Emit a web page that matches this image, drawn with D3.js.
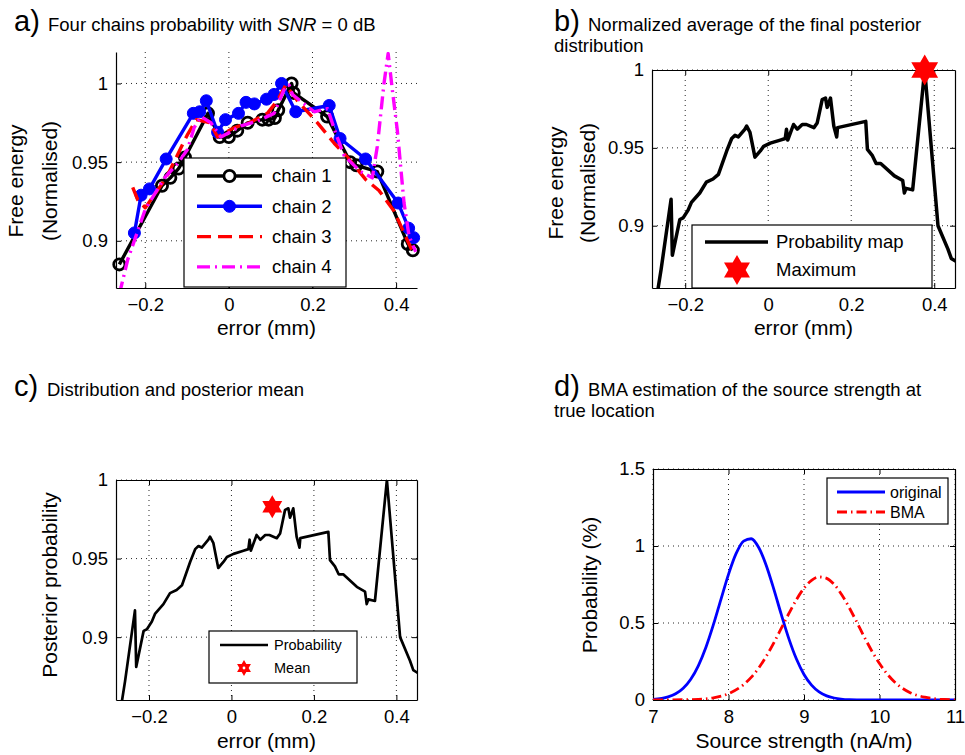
<!DOCTYPE html>
<html>
<head>
<meta charset="utf-8">
<script src="https://cdn.jsdelivr.net/npm/d3@7"></script>
<style>
  body { margin: 0; background: #fff; }
  svg { display: block; font-family: "Liberation Sans", Arial, Helvetica, sans-serif; }
</style>
</head>
<body>
<div id="chart"></div>
<script>
// values

// a) four MCMC chains, [error (mm), normalised free energy]
const chain1 = [[-0.262, 0.885], [-0.16, 0.935], [-0.14, 0.940], [-0.12, 0.946], [-0.105, 0.953],
  [-0.05, 0.981], [-0.022, 0.966], [0.0, 0.966], [0.02, 0.970], [0.045, 0.975], [0.08, 0.977],
  [0.095, 0.977], [0.11, 0.978], [0.118, 0.983], [0.15, 1.0], [0.155, 0.994], [0.235, 0.979],
  [0.29, 0.950], [0.305, 0.948], [0.355, 0.944], [0.428, 0.898], [0.44, 0.894]];
const chain2 = [[-0.226, 0.905], [-0.21, 0.929], [-0.19, 0.933], [-0.15, 0.952], [-0.085, 0.981],
  [-0.07, 0.982], [-0.054, 0.989], [-0.027, 0.969], [-0.008, 0.977], [0.023, 0.981], [0.041, 0.988],
  [0.061, 0.987], [0.09, 0.990], [0.108, 0.993], [0.126, 1.0], [0.16, 0.982], [0.24, 0.986],
  [0.266, 0.965], [0.327, 0.952], [0.405, 0.924], [0.43, 0.908], [0.442, 0.902]];
const chain3 = [[-0.23, 0.934], [-0.218, 0.926], [-0.2, 0.921], [-0.15, 0.940], [-0.1, 0.967],
  [-0.078, 0.977], [-0.045, 0.975], [-0.027, 0.966], [0.013, 0.972], [0.049, 0.975], [0.092, 0.981],
  [0.116, 0.989], [0.136, 0.999], [0.156, 0.992], [0.164, 0.989], [0.212, 0.975], [0.252, 0.962],
  [0.284, 0.953], [0.327, 0.939], [0.359, 0.932], [0.395, 0.919], [0.419, 0.905], [0.443, 0.891]];
const chain4 = [[-0.262, 0.866], [-0.242, 0.888], [-0.2, 0.920], [-0.154, 0.940], [-0.123, 0.949],
  [-0.099, 0.958], [-0.083, 0.972], [-0.067, 0.979], [-0.043, 0.975], [-0.019, 0.966], [0.029, 0.973],
  [0.067, 0.976], [0.108, 0.981], [0.132, 0.996], [0.144, 0.999], [0.152, 0.993], [0.204, 0.982],
  [0.236, 0.984], [0.256, 0.968], [0.276, 0.954], [0.315, 0.944], [0.343, 0.940], [0.355, 0.960],
  [0.371, 1.0], [0.381, 1.019], [0.391, 0.996], [0.403, 0.970], [0.419, 0.924], [0.431, 0.903],
  [0.447, 0.893]];

// b) and c) averaged posterior (probability map)
const probX = [-0.270, -0.258, -0.234, -0.231, -0.213, -0.205, -0.193, -0.185, -0.165, -0.149,
  -0.133, -0.120, -0.100, -0.088, -0.080, -0.072, -0.056, -0.052, -0.044, -0.032, -0.019, -0.011,
  0.005, 0.029, 0.041, 0.044, 0.047, 0.061, 0.070, 0.082, 0.092, 0.110, 0.118, 0.130, 0.138, 0.142,
  0.150, 0.158, 0.165, 0.167, 0.235, 0.239, 0.251, 0.260, 0.271, 0.304, 0.324, 0.328, 0.332, 0.348,
  0.377, 0.409, 0.433, 0.441, 0.453];
const probY = [0.852, 0.872, 0.917, 0.881, 0.904, 0.905, 0.910, 0.915, 0.921, 0.928,
  0.930, 0.933, 0.948, 0.956, 0.958, 0.957, 0.962, 0.964, 0.960, 0.944, 0.948, 0.951,
  0.953, 0.955, 0.956, 0.962, 0.955, 0.965, 0.962, 0.965, 0.965, 0.963, 0.966, 0.981, 0.982, 0.976,
  0.982, 0.964, 0.957, 0.963, 0.967, 0.949, 0.945, 0.940, 0.940, 0.932, 0.929, 0.921, 0.924, 0.923,
  1.000, 0.900, 0.885, 0.879, 0.877];
const maxPoint = [0.377, 1.0];
const meanPoint = [0.099, 0.983];

// d) source strength distributions
const originalX = [7.0, 7.2, 7.3, 7.4, 7.5, 7.6, 7.7, 7.8, 7.9, 8.0, 8.1, 8.2, 8.3, 8.4, 8.5, 8.6,
  8.7, 8.8, 8.9, 9.0, 9.1, 9.2, 9.3, 9.4, 9.6, 9.8, 10.5, 11.0];
const originalY = [0.004, 0.020, 0.040, 0.076, 0.135, 0.222, 0.341, 0.489, 0.654, 0.816, 0.950,
  1.032, 1.047, 0.990, 0.874, 0.720, 0.554, 0.397, 0.266, 0.166, 0.097, 0.053, 0.027, 0.013, 0.002,
  0.0, 0.0, 0.0];
const bmaX = [7.0, 7.6, 7.8, 8.0, 8.2, 8.3, 8.4, 8.5, 8.6, 8.7, 8.8, 8.9, 9.0, 9.1, 9.2, 9.3, 9.4,
  9.5, 9.6, 9.7, 9.8, 9.9, 10.0, 10.1, 10.2, 10.4, 10.6, 10.8, 11.0];
const bmaY = [0.0, 0.004, 0.014, 0.041, 0.100, 0.147, 0.208, 0.284, 0.371, 0.466, 0.562, 0.652,
  0.726, 0.777, 0.799, 0.790, 0.750, 0.684, 0.599, 0.505, 0.408, 0.317, 0.237, 0.170, 0.117, 0.049,
  0.018, 0.005, 0.001];

const errorTicks = [-0.2, 0, 0.2, 0.4];
const energyTicks = [0.9, 0.95, 1];
const strengthTicks = [7, 8, 9, 10, 11];
const probTicks = [0, 0.5, 1, 1.5];

const width = 965, height = 755;
const svg = d3.select("#chart").append("svg")
  .attr("width", width)
  .attr("height", height);
svg.append("rect").attr("width", width).attr("height", height).attr("fill", "#fff");

const fmt = d => d < 0 ? "\u2212" + Math.abs(d) : String(d);
let clipCount = 0;

// MATLAB-like axes: inward ticks, dotted grid, optional box
function makeAxes(o) {
  const w = o.right - o.left, h = o.bottom - o.top;
  const g = svg.append("g").attr("transform", `translate(${o.left},${o.top})`);
  const x = d3.scaleLinear().domain(o.xDomain).range([0, w]);
  const y = d3.scaleLinear().domain(o.yDomain).range([h, 0]);

  const grid = g.append("g")
    .attr("stroke", "#000")
    .attr("stroke-width", 1)
    .attr("stroke-dasharray", "1,4")
    .attr("stroke-opacity", 0.85);
  grid.selectAll(".gx").data(o.xTicks).join("line")
    .attr("x1", d => x(d)).attr("x2", d => x(d)).attr("y1", 0).attr("y2", h);
  grid.selectAll(".gy").data(o.yTicks).join("line")
    .attr("x1", 0).attr("x2", w).attr("y1", d => y(d)).attr("y2", d => y(d));

  const style = sel => {
    sel.attr("font-size", null).attr("font-family", null);
    sel.select(".domain").attr("stroke", "#000").attr("stroke-width", 1.2);
    sel.selectAll(".tick line").attr("stroke", "#000");
    sel.selectAll(".tick text").attr("fill", "#000").style("font-size", "18.5px");
  };

  g.append("g").attr("transform", `translate(0,${h})`)
    .call(d3.axisBottom(x).tickValues(o.xTicks).tickFormat(fmt)
      .tickSizeInner(-5).tickSizeOuter(0).tickPadding(10))
    .call(style);
  g.append("g")
    .call(d3.axisLeft(y).tickValues(o.yTicks).tickFormat(fmt)
      .tickSizeInner(-5).tickSizeOuter(0).tickPadding(8))
    .call(style);

  if (o.box) {
    g.append("g")
      .call(d3.axisTop(x).tickValues(o.xTicks).tickFormat("").tickSizeInner(-5).tickSizeOuter(0))
      .call(style);
    g.append("g").attr("transform", `translate(${w},0)`)
      .call(d3.axisRight(y).tickValues(o.yTicks).tickFormat("").tickSizeInner(-5).tickSizeOuter(0))
      .call(style);
  }

  const id = "clip" + (clipCount++);
  g.append("clipPath").attr("id", id)
    .append("rect").attr("width", w).attr("height", h);

  // axis labels
  svg.append("text")
    .attr("x", o.left + w / 2).attr("y", o.xLabelY)
    .attr("text-anchor", "middle").style("font-size", "21px")
    .text(o.xLabel);
  o.yLabels.forEach(([txt, bx]) => {
    svg.append("text")
      .attr("transform", `translate(${bx},${o.yLabelCy}) rotate(-90)`)
      .attr("text-anchor", "middle").style("font-size", "21px")
      .text(txt);
  });

  return { g, x, y, w, h, clip: `url(#${id})` };
}

function title(letterX, textX, y, lines, subX) {
  svg.append("text").attr("x", letterX).attr("y", y).style("font-size", "29px").text(lines.letter);
  const t = svg.append("text").attr("x", textX).attr("y", y).style("font-size", "18.5px");
  lines.first(t);
  if (lines.second) {
    svg.append("text").attr("x", subX).attr("y", y + 21).style("font-size", "18.5px").text(lines.second);
  }
}

// six-pointed star (MATLAB 'hexagram')
function hexagram(R) {
  const pts = d3.range(12).map(i => {
    const a = -Math.PI / 2 + i * Math.PI / 6;
    const r = i % 2 ? R / Math.sqrt(3) : R;
    return [r * Math.cos(a), r * Math.sin(a)];
  });
  return "M" + pts.map(p => p[0].toFixed(2) + "," + p[1].toFixed(2)).join("L") + "Z";
}

function legendBox(x0, y0, x1, y1) {
  svg.append("rect")
    .attr("x", x0).attr("y", y0).attr("width", x1 - x0).attr("height", y1 - y0)
    .attr("fill", "#fff").attr("stroke", "#000").attr("stroke-width", 1.2);
}

// ---------------- a) ----------------
const A = makeAxes({
  left: 116, right: 417, top: 52, bottom: 288,
  xDomain: [-0.27, 0.45], yDomain: [0.87, 1.02],
  xTicks: errorTicks, yTicks: energyTicks, box: false,
  xLabel: "error (mm)", xLabelY: 335,
  yLabels: [["Free energy", 23], ["(Normalised)", 57]], yLabelCy: 181
});
title(14, 48, 31, {
  letter: "a)",
  first: t => {
    t.append("tspan").text("Four chains probability with ");
    t.append("tspan").style("font-style", "italic").text("SNR");
    t.append("tspan").text(" = 0 dB");
  }
});

const chains = [
  { data: chain1, name: "chain 1", color: "#000", dash: null, marker: "open" },
  { data: chain2, name: "chain 2", color: "#0000ff", dash: null, marker: "dot" },
  { data: chain3, name: "chain 3", color: "#ff0000", dash: "14,7", marker: null },
  { data: chain4, name: "chain 4", color: "#ff00ff", dash: "13,5,2,5", marker: null }
];
const lineA = d3.line().x(d => A.x(d[0])).y(d => A.y(d[1]));

chains.forEach(c => {
  A.g.append("path")
    .attr("clip-path", A.clip)
    .attr("d", lineA(c.data))
    .attr("fill", "none")
    .attr("stroke", c.color)
    .attr("stroke-width", 3.4)
    .attr("stroke-linejoin", "round")
    .attr("stroke-dasharray", c.dash);
  if (c.marker) {
    A.g.append("g").selectAll("circle").data(c.data).join("circle")
      .attr("cx", d => A.x(d[0])).attr("cy", d => A.y(d[1]))
      .attr("r", c.marker === "dot" ? 6 : 5.6)
      .attr("fill", c.marker === "dot" ? c.color : "none")
      .attr("stroke", c.color)
      .attr("stroke-width", c.marker === "dot" ? 1 : 2.8);
  }
});

legendBox(184, 158, 346, 287);
chains.forEach((c, i) => {
  const ly = 176 + i * 30.3;
  svg.append("line")
    .attr("x1", 197).attr("x2", 262).attr("y1", ly).attr("y2", ly)
    .attr("stroke", c.color).attr("stroke-width", 3.4).attr("stroke-dasharray", c.dash);
  if (c.marker) {
    svg.append("circle").attr("cx", 229.5).attr("cy", ly).attr("r", c.marker === "dot" ? 6 : 5.6)
      .attr("fill", c.marker === "dot" ? c.color : "#fff")
      .attr("stroke", c.color).attr("stroke-width", c.marker === "dot" ? 1 : 2.8);
  }
  svg.append("text").attr("x", 272).attr("y", ly).attr("dy", "0.35em")
    .style("font-size", "18.5px").text(c.name);
});

// ---------------- b) ----------------
const probData = probX.map((v, i) => [v, probY[i]]);

const B = makeAxes({
  left: 652, right: 955, top: 70, bottom: 288,
  xDomain: [-0.28, 0.45], yDomain: [0.86, 1.0],
  xTicks: errorTicks, yTicks: energyTicks, box: true,
  xLabel: "error (mm)", xLabelY: 335,
  yLabels: [["Free energy", 563], ["(Normalised)", 595]], yLabelCy: 183
});
title(554, 588, 31, {
  letter: "b)",
  first: t => t.text("Normalized average of the final posterior"),
  second: "distribution"
}, 554);

B.g.append("path")
  .attr("clip-path", B.clip)
  .attr("d", d3.line().x(d => B.x(d[0])).y(d => B.y(d[1]))(probData))
  .attr("fill", "none").attr("stroke", "#000").attr("stroke-width", 3.5)
  .attr("stroke-linejoin", "round");
B.g.append("path")
  .attr("transform", `translate(${B.x(maxPoint[0])},${B.y(maxPoint[1])})`)
  .attr("d", hexagram(15.5)).attr("fill", "#ff0000");

legendBox(692, 225, 932, 288);
svg.append("line").attr("x1", 705).attr("x2", 768).attr("y1", 242).attr("y2", 242)
  .attr("stroke", "#000").attr("stroke-width", 3.5);
svg.append("text").attr("x", 776).attr("y", 242).attr("dy", "0.35em")
  .style("font-size", "18.5px").text("Probability map");
svg.append("path").attr("transform", "translate(737,270)")
  .attr("d", hexagram(15)).attr("fill", "#ff0000");
svg.append("text").attr("x", 776).attr("y", 270).attr("dy", "0.35em")
  .style("font-size", "18.5px").text("Maximum");

// ---------------- c) ----------------
const C = makeAxes({
  left: 116, right: 417, top: 480, bottom: 700,
  xDomain: [-0.28, 0.45], yDomain: [0.86, 1.0],
  xTicks: errorTicks, yTicks: energyTicks, box: true,
  xLabel: "error (mm)", xLabelY: 748,
  yLabels: [["Posterior probability", 57]], yLabelCy: 585
});
title(14, 47, 396, {
  letter: "c)",
  first: t => t.text("Distribution and posterior mean")
});

C.g.append("path")
  .attr("clip-path", C.clip)
  .attr("d", d3.line().x(d => C.x(d[0])).y(d => C.y(d[1]))(probData))
  .attr("fill", "none").attr("stroke", "#000").attr("stroke-width", 2.7)
  .attr("stroke-linejoin", "round");
C.g.append("path")
  .attr("transform", `translate(${C.x(meanPoint[0])},${C.y(meanPoint[1])})`)
  .attr("d", hexagram(11.5)).attr("fill", "#ff0000");

legendBox(209, 631, 357, 683);
svg.append("line").attr("x1", 220).attr("x2", 268).attr("y1", 645).attr("y2", 645)
  .attr("stroke", "#000").attr("stroke-width", 2.7);
svg.append("text").attr("x", 274).attr("y", 645).attr("dy", "0.35em")
  .style("font-size", "14.5px").text("Probability");
svg.append("path").attr("transform", "translate(244,668)")
  .attr("d", hexagram(8)).attr("fill", "#ff0000");
svg.append("circle").attr("cx", 244).attr("cy", 668).attr("r", 1.4).attr("fill", "#fff");
svg.append("text").attr("x", 274).attr("y", 668).attr("dy", "0.35em")
  .style("font-size", "14.5px").text("Mean");

// ---------------- d) ----------------
const D = makeAxes({
  left: 653, right: 955, top: 469, bottom: 700,
  xDomain: [7, 11], yDomain: [0, 1.5],
  xTicks: strengthTicks, yTicks: probTicks, box: true,
  xLabel: "Source strength (nA/m)", xLabelY: 748,
  yLabels: [["Probability (%)", 597]], yLabelCy: 585
});
title(554, 588, 396, {
  letter: "d)",
  first: t => t.text("BMA estimation of the source strength at"),
  second: "true location"
}, 554);

const lineD = d3.line().x(d => D.x(d[0])).y(d => D.y(d[1])).curve(d3.curveMonotoneX);
D.g.append("path")
  .attr("clip-path", D.clip)
  .attr("d", lineD(originalX.map((v, i) => [v, originalY[i]])))
  .attr("fill", "none").attr("stroke", "#0000ff").attr("stroke-width", 2.8);
D.g.append("path")
  .attr("clip-path", D.clip)
  .attr("d", lineD(bmaX.map((v, i) => [v, bmaY[i]])))
  .attr("fill", "none").attr("stroke", "#ff0000").attr("stroke-width", 2.8)
  .attr("stroke-dasharray", "10,4,1.5,4");

legendBox(827, 478, 948, 524);
svg.append("line").attr("x1", 837).attr("x2", 885).attr("y1", 492).attr("y2", 492)
  .attr("stroke", "#0000ff").attr("stroke-width", 2.8);
svg.append("text").attr("x", 890).attr("y", 492).attr("dy", "0.35em")
  .style("font-size", "16px").text("original");
svg.append("line").attr("x1", 837).attr("x2", 885).attr("y1", 512).attr("y2", 512)
  .attr("stroke", "#ff0000").attr("stroke-width", 2.8).attr("stroke-dasharray", "10,4,1.5,4");
svg.append("text").attr("x", 890).attr("y", 512).attr("dy", "0.35em")
  .style("font-size", "16px").text("BMA");
</script>
</body>
</html>
